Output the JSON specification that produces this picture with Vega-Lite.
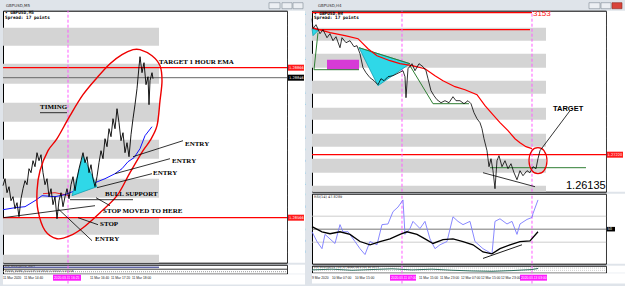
{
"$schema":"https://vega.github.io/schema/vega-lite/v6.json",
"background":"#dfe4ea",
"padding":{"left":0,"top":1.7,"right":0,"bottom":0},
"spacing":2,
"config":{
 "view":{"stroke":"#000000","strokeWidth":1,"fill":"#ffffff"},
 "axis":{"domain":false,"grid":false,"tickSize":2,"tickColor":"#333333","labelFontSize":3.6,"labelFont":"DejaVu Sans","labelColor":"#222222","labelPadding":1,"zindex":1,"title":null,"labelOverlap":false,"labelFlush":false}
},
"hconcat":[
 {"bounds":"flush","spacing":2,"vconcat":[
  {"width":284,"height":252,
   "encoding":{
    "x":{"field":"x","type":"quantitative","scale":{"domain":[0,142],"nice":false,"zero":false},"axis":null},
    "y":{"field":"y","type":"quantitative","scale":{"domain":[1.28476,1.2898],"nice":false,"zero":false},"axis":{"orient":"right","format":".5f","values":[1.28974,1.28952,1.2893,1.28906,1.28884,1.28816,1.28794,1.2877,1.28748,1.28726,1.28702,1.2868,1.28656,1.28634,1.28612,1.28588,1.28542,1.2852,1.28498]}}
   },
   "layer":[
    {"data":{"values":[{"x":133,"x2":138.5,"y":1.28996,"y2":1.28984},{"x":139.5,"x2":144.5,"y":1.28996,"y2":1.28984},{"x":145,"x2":150,"y":1.28996,"y2":1.28984}]},"mark":{"type":"rect","fill":"#eceff3","stroke":"#7f8a96","strokeWidth":0.6},"encoding":{"x2":{"field":"x2"},"y2":{"field":"y2"}}},
    {"data":{"values":[{"x":1.5,"y":1.2899,"t":"GBPUSD,M5"}]},"mark":{"type":"text","align":"left","baseline":"middle","fontSize":4,"font":"DejaVu Sans","color":"#333333"},"encoding":{"text":{"field":"t"}}},
    {"data":{"values":[{"x":142.4,"x2":151,"y":1.28476,"y2":1.2898}]},"mark":{"type":"rect","fill":"#ffffff"},"encoding":{"x2":{"field":"x2"},"y2":{"field":"y2"}}},
    {"data":{"values":[{"x":0,"x2":78,"y":1.28946,"y2":1.2891},{"x":0,"x2":78,"y":1.28874,"y2":1.28834},{"x":0,"x2":78,"y":1.28796,"y2":1.28758},{"x":0,"x2":78,"y":1.28722,"y2":1.28684},{"x":0,"x2":78,"y":1.28644,"y2":1.28606},{"x":0,"x2":78,"y":1.28566,"y2":1.28532},{"x":0,"x2":78,"y":1.28492,"y2":1.28476}]},"mark":{"type":"rect","fill":"#d4d4d4"},"encoding":{"x2":{"field":"x2"},"y2":{"field":"y2"}}},
    {"data":{"values":[{"x":0,"x2":142,"y":1.28846,"y2":1.28846}]},"mark":{"type":"rule","color":"#666666","strokeWidth":1},"encoding":{"x2":{"field":"x2"},"y2":{"field":"y2"}}},
    {"data":{"values":[{"x":0,"x2":142,"y":1.28866,"y2":1.28866},{"x":0,"x2":142,"y":1.28566,"y2":1.28566}]},"mark":{"type":"rule","color":"#ff0000","strokeWidth":1.3},"encoding":{"x2":{"field":"x2"},"y2":{"field":"y2"}}},
    {"data":{"values":[{"x":32.5,"x2":32.5,"y":1.28476,"y2":1.2898}]},"mark":{"type":"rule","color":"#ff5cff","strokeWidth":1,"strokeDash":[3,2]},"encoding":{"x2":{"field":"x2"},"y2":{"field":"y2"}}},
    {"data":{"values":[{"x":20,"y":1.28614},{"x":26,"y":1.28616},{"x":33.5,"y":1.2861}]},"mark":{"type":"line","color":"#ee2222","strokeWidth":1},"encoding":{}},
    {"data":{"values":[{"x":0,"y":1.28582},{"x":6,"y":1.28586},{"x":11,"y":1.28588},{"x":16,"y":1.286},{"x":19.5,"y":1.2861},{"x":26,"y":1.28608},{"x":31,"y":1.28612},{"x":36,"y":1.2862},{"x":41,"y":1.28628},{"x":46,"y":1.28636},{"x":51,"y":1.28644},{"x":56,"y":1.28654},{"x":59.5,"y":1.28664},{"x":62.5,"y":1.28678},{"x":65.5,"y":1.28686},{"x":68.5,"y":1.28704},{"x":71,"y":1.2873},{"x":74.5,"y":1.28748}]},"mark":{"type":"line","color":"#1010ff","strokeWidth":1},"encoding":{}},
    {"data":{"values":[{"x":40,"y":1.2869,"i":0},{"x":34.5,"y":1.2861,"i":1},{"x":47,"y":1.28628,"i":2},{"x":40,"y":1.2869,"i":3}]},"mark":{"type":"line","fill":"#2fd8e8","stroke":"#139fb0","strokeWidth":0.8},"encoding":{"order":{"field":"i","type":"quantitative"}}},
    {"data":{"values":[{"x":0,"y":1.2863},{"x":1,"y":1.28644},{"x":2,"y":1.28616},{"x":3,"y":1.28628},{"x":4,"y":1.286},{"x":5,"y":1.28608},{"x":6,"y":1.28584},{"x":7,"y":1.28596},{"x":8,"y":1.28568},{"x":9,"y":1.28604},{"x":10,"y":1.28624},{"x":11,"y":1.2864},{"x":12,"y":1.28632},{"x":13,"y":1.28664},{"x":14,"y":1.28656},{"x":15,"y":1.2868},{"x":16,"y":1.28668},{"x":17,"y":1.28696},{"x":18,"y":1.2868},{"x":19,"y":1.28692},{"x":20,"y":1.28656},{"x":21,"y":1.28632},{"x":22,"y":1.28644},{"x":23,"y":1.28608},{"x":24,"y":1.28624},{"x":25,"y":1.28592},{"x":26,"y":1.28608},{"x":27,"y":1.28564},{"x":28,"y":1.286},{"x":29,"y":1.28616},{"x":30,"y":1.28588},{"x":31,"y":1.28608},{"x":32,"y":1.28624},{"x":33,"y":1.28604},{"x":34,"y":1.28632},{"x":35,"y":1.28648},{"x":36,"y":1.2862},{"x":37,"y":1.28644},{"x":38,"y":1.28664},{"x":39,"y":1.2868},{"x":40,"y":1.28696},{"x":41,"y":1.28676},{"x":42,"y":1.28688},{"x":43,"y":1.28656},{"x":44,"y":1.28672},{"x":45,"y":1.28644},{"x":46,"y":1.28628},{"x":47,"y":1.28648},{"x":48,"y":1.28676},{"x":49,"y":1.287},{"x":50,"y":1.28684},{"x":51,"y":1.28724},{"x":52,"y":1.28708},{"x":53,"y":1.28744},{"x":54,"y":1.28728},{"x":55,"y":1.28764},{"x":56,"y":1.28744},{"x":57,"y":1.28784},{"x":58,"y":1.28756},{"x":59,"y":1.2872},{"x":60,"y":1.28736},{"x":61,"y":1.28696},{"x":62,"y":1.28716},{"x":63,"y":1.28688},{"x":64,"y":1.28732},{"x":65,"y":1.28764},{"x":66,"y":1.28792},{"x":67,"y":1.28824},{"x":68,"y":1.28868},{"x":68.5,"y":1.28888},{"x":69.5,"y":1.28856},{"x":70.5,"y":1.28876},{"x":71.5,"y":1.28832},{"x":72.5,"y":1.28848},{"x":73,"y":1.28792},{"x":73.5,"y":1.2884},{"x":74.5,"y":1.28856},{"x":75,"y":1.28844}]},"mark":{"type":"line","color":"#000000","strokeWidth":0.9},"encoding":{}},
    {"data":{"values":[{"x":68.5,"y":1.28902,"i":0},{"x":74.5,"y":1.2889,"i":1},{"x":78.5,"y":1.2887,"i":2},{"x":79.5,"y":1.2884,"i":3},{"x":78.5,"y":1.288,"i":4},{"x":77,"y":1.2875,"i":5},{"x":73.5,"y":1.2872,"i":6},{"x":70,"y":1.287,"i":7},{"x":63.5,"y":1.28656,"i":8},{"x":57,"y":1.2861,"i":9},{"x":48.5,"y":1.28576,"i":10},{"x":40,"y":1.28546,"i":11},{"x":33.5,"y":1.2853,"i":12},{"x":27,"y":1.28524,"i":13},{"x":21,"y":1.2854,"i":14},{"x":17.5,"y":1.2858,"i":15},{"x":17,"y":1.2862,"i":16},{"x":18.5,"y":1.2866,"i":17},{"x":22.5,"y":1.287,"i":18},{"x":27,"y":1.28724,"i":19},{"x":33.5,"y":1.2877,"i":20},{"x":40,"y":1.28812,"i":21},{"x":47,"y":1.28846,"i":22},{"x":53.5,"y":1.28874,"i":23},{"x":59.5,"y":1.28892,"i":24},{"x":65,"y":1.28902,"i":25}]},"mark":{"type":"line","color":"#ee0000","strokeWidth":1.4,"interpolate":"cardinal-closed"},"encoding":{"order":{"field":"i","type":"quantitative"}}},
    {"data":{"values":[{"x":0,"y":1.28566,"x2":46,"y2":1.2859},{"x":33.5,"y":1.28602,"x2":65,"y2":1.28602},{"x":46.5,"y":1.28606,"x2":53.5,"y2":1.2859},{"x":37.5,"y":1.28566,"x2":47.5,"y2":1.28552},{"x":27.5,"y":1.28584,"x2":44.5,"y2":1.2852},{"x":47,"y":1.28626,"x2":74.5,"y2":1.28654},{"x":56,"y":1.28654,"x2":83.5,"y2":1.28684},{"x":65,"y":1.28688,"x2":90,"y2":1.2872},{"x":18.5,"y":1.28776,"x2":32,"y2":1.28776}]},"mark":{"type":"rule","color":"#000000","strokeWidth":0.8},"encoding":{"x2":{"field":"x2"},"y2":{"field":"y2"}}},
    {"data":{"values":[{"x":78,"y":1.28878,"t":"TARGET 1 HOUR EMA"},{"x":18.5,"y":1.28788,"t":"TIMING"},{"x":51,"y":1.28614,"t":"BULL SUPPORT"},{"x":50,"y":1.2858,"t":"STOP MOVED TO HERE"},{"x":48.5,"y":1.28554,"t":"STOP"},{"x":46,"y":1.28524,"t":"ENTRY"},{"x":75,"y":1.28656,"t":"ENTRY"},{"x":84.5,"y":1.2868,"t":"ENTRY"},{"x":91,"y":1.28714,"t":"ENTRY"}]},"mark":{"type":"text","align":"left","baseline":"middle","font":"Liberation Serif","fontWeight":"bold","fontSize":7,"color":"#000000"},"encoding":{"text":{"field":"t"}}},
    {"data":{"values":[{"x":142.5,"x2":150.5,"y":1.28872,"y2":1.2886},{"x":142.5,"x2":150.5,"y":1.28572,"y2":1.2856}]},"mark":{"type":"rect","fill":"#ff1a1a"},"encoding":{"x2":{"field":"x2"},"y2":{"field":"y2"}}},
    {"data":{"values":[{"x":142.5,"x2":150.5,"y":1.28852,"y2":1.2884}]},"mark":{"type":"rect","fill":"#000000"},"encoding":{"x2":{"field":"x2"},"y2":{"field":"y2"}}},
    {"data":{"values":[{"x":143,"y":1.28866,"t":"1.28866"},{"x":143,"y":1.28846,"t":"1.28846"},{"x":143,"y":1.28566,"t":"1.28566"}]},"mark":{"type":"text","align":"left","baseline":"middle","font":"DejaVu Sans","fontSize":3.6,"color":"#ffffff"},"encoding":{"text":{"field":"t"}}},
    {"data":{"values":[{"x":1,"y":1.28975,"t":"▾ GBPUSD,M5"},{"x":1,"y":1.28965,"t":"Spread: 17 points"}]},"mark":{"type":"text","align":"left","baseline":"middle","font":"DejaVu Sans Mono","fontWeight":"bold","fontSize":4.4,"color":"#000000"},"encoding":{"text":{"field":"t"}}}
   ]
  },
  {"width":284,"height":9,
   "encoding":{
    "x":{"field":"x","type":"quantitative","scale":{"domain":[0,142],"nice":false,"zero":false},"axis":null},
    "y":{"field":"y","type":"quantitative","scale":{"domain":[0,1],"nice":false,"zero":false},"axis":null}
   },
   "layer":[
    {"data":{"values":[{"x":0,"x2":151,"y":-1.2,"y2":-0.06},{"x":142.4,"x2":151,"y":0,"y2":1}]},"mark":{"type":"rect","fill":"#ffffff"},"encoding":{"x2":{"field":"x2"},"y2":{"field":"y2"}}},
    {"data":{"values":[{"x":0,"x2":142,"y":0.5,"y2":0.5}]},"mark":{"type":"rule","color":"#000000","strokeWidth":0.8},"encoding":{"x2":{"field":"x2"},"y2":{"field":"y2"}}},
    {"data":{"values":[{"x":0,"x2":78,"y":0.72,"y2":0.72}]},"mark":{"type":"rule","color":"#1a237e","strokeWidth":1},"encoding":{"x2":{"field":"x2"},"y2":{"field":"y2"}}},
    {"data":{"values":[{"x":0,"x2":142,"y":0.22,"y2":0.22}]},"mark":{"type":"rule","color":"#999999","strokeWidth":1,"strokeDash":[1,1]},"encoding":{"x2":{"field":"x2"},"y2":{"field":"y2"}}},
    {"data":{"values":[{"x":1,"y":0.85,"t":"RSI_Divergence_Alert"},{"x":1,"y":0.33,"t":"MACD_OsMA_ColorLH (12,26,9) 0.00012 0.00018"}]},"mark":{"type":"text","align":"left","baseline":"middle","font":"DejaVu Sans","fontSize":2.8,"color":"#333333"},"encoding":{"text":{"field":"t"}}},
    {"data":{"values":[{"x":25,"x2":39,"y":-0.78,"y2":-0.11}]},"mark":{"type":"rect","fill":"#ff1aff"},"encoding":{"x2":{"field":"x2"},"y2":{"field":"y2"}}},
    {"data":{"values":[{"x":25.5,"y":-0.44,"t":"2020.03.11 16:25"}]},"mark":{"type":"text","align":"left","baseline":"middle","font":"Liberation Sans","fontSize":3.3,"color":"#ffffff"},"encoding":{"text":{"field":"t"}}},
    {"data":{"values":[{"x":32.5,"x2":32.5,"y":-1.1,"y2":1}]},"mark":{"type":"rule","color":"#ff5cff","strokeWidth":1,"strokeDash":[3,2]},"encoding":{"x2":{"field":"x2"},"y2":{"field":"y2"}}},
    {"data":{"values":[{"x":0,"y":-0.44,"t":"11 Mar 2020"},{"x":10.5,"y":-0.44,"t":"11 Mar 14:40"},{"x":43.5,"y":-0.44,"t":"11 Mar 16:40"},{"x":54,"y":-0.44,"t":"11 Mar 17:20"},{"x":64.5,"y":-0.44,"t":"11 Mar 18:00"}]},"mark":{"type":"text","align":"left","baseline":"middle","font":"Liberation Sans","fontSize":3.3,"color":"#222222"},"encoding":{"text":{"field":"t"}}}
   ]
  }
 ]},
 {"bounds":"flush","spacing":2,"vconcat":[
  {"width":294,"height":181,
   "encoding":{
    "x":{"field":"x","type":"quantitative","scale":{"domain":[0,147],"nice":false,"zero":false},"axis":null},
    "y":{"field":"y","type":"quantitative","scale":{"domain":[1.2611,1.3154],"nice":false,"zero":false},"axis":{"orient":"right","format":".5f","values":[1.3145,1.31111,1.30772,1.30433,1.30094,1.29755,1.29416,1.29077,1.28738,1.28399,1.2806,1.27721,1.27382,1.26704,1.26365]}}
   },
   "layer":[
    {"data":{"values":[{"x":138.5,"x2":144,"y":1.3178,"y2":1.316},{"x":144.5,"x2":149.5,"y":1.3178,"y2":1.316}]},"mark":{"type":"rect","fill":"#eceff3","stroke":"#7f8a96","strokeWidth":0.6},"encoding":{"x2":{"field":"x2"},"y2":{"field":"y2"}}},
    {"data":{"values":[{"x":150,"x2":155,"y":1.3178,"y2":1.316}]},"mark":{"type":"rect","fill":"#d9443a","stroke":"#8a2a22","strokeWidth":0.6},"encoding":{"x2":{"field":"x2"},"y2":{"field":"y2"}}},
    {"data":{"values":[{"x":3,"y":1.3169,"t":"GBPUSD,H4"}]},"mark":{"type":"text","align":"left","baseline":"middle","fontSize":4,"font":"DejaVu Sans","color":"#333333"},"encoding":{"text":{"field":"t"}}},
    {"data":{"values":[{"x":147.4,"x2":157,"y":1.2611,"y2":1.3154}]},"mark":{"type":"rect","fill":"#ffffff"},"encoding":{"x2":{"field":"x2"},"y2":{"field":"y2"}}},
    {"data":{"values":[{"x":0,"x2":117,"y":1.3103,"y2":1.3064},{"x":0,"x2":117,"y":1.3025,"y2":1.2983},{"x":0,"x2":117,"y":1.2944,"y2":1.2905},{"x":0,"x2":117,"y":1.2863,"y2":1.2827},{"x":0,"x2":117,"y":1.2785,"y2":1.2746},{"x":0,"x2":117,"y":1.271,"y2":1.2668},{"x":0,"x2":117,"y":1.2629,"y2":1.2611}]},"mark":{"type":"rect","fill":"#d4d4d4"},"encoding":{"x2":{"field":"x2"},"y2":{"field":"y2"}}},
    {"data":{"values":[{"x":7.5,"x2":23.5,"y":1.3007,"y2":1.2977}]},"mark":{"type":"rect","fill":"#d63bd6"},"encoding":{"x2":{"field":"x2"},"y2":{"field":"y2"}}},
    {"data":{"values":[{"x":0,"x2":110,"y":1.3148,"y2":1.3148},{"x":0,"x2":109,"y":1.3097,"y2":1.3097},{"x":0,"x2":147,"y":1.2722,"y2":1.2722}]},"mark":{"type":"rule","color":"#ff0000","strokeWidth":1.2},"encoding":{"x2":{"field":"x2"},"y2":{"field":"y2"}}},
    {"data":{"values":[{"x":45,"x2":45,"y":1.2611,"y2":1.3154},{"x":110,"x2":110,"y":1.2611,"y2":1.3154}]},"mark":{"type":"rule","color":"#ff5cff","strokeWidth":1,"strokeDash":[3,2]},"encoding":{"x2":{"field":"x2"},"y2":{"field":"y2"}}},
    {"data":{"values":[{"x":23.5,"y":1.3043,"i":0},{"x":49,"y":1.2995,"i":1},{"x":33,"y":1.2929,"i":2},{"x":23.5,"y":1.3043,"i":3}]},"mark":{"type":"line","fill":"#2fd8e8","stroke":"#139fb0","strokeWidth":0.8},"encoding":{"order":{"field":"i","type":"quantitative"}}},
    {"data":{"values":[{"x":0,"y":1.31,"i":0},{"x":3,"y":1.3094,"i":1},{"x":0.5,"y":1.3079,"i":2},{"x":0,"y":1.31,"i":3}]},"mark":{"type":"line","fill":"#2fd8e8","stroke":"#139fb0","strokeWidth":0.8},"encoding":{"order":{"field":"i","type":"quantitative"}}},
    {"data":{"values":[{"x":3,"y":1.3088,"x2":1,"y2":1.2977},{"x":1,"y":1.2977,"x2":23.5,"y2":1.2977},{"x":23.5,"y":1.3043,"x2":49,"y2":1.2995},{"x":49,"y":1.2989,"x2":60.5,"y2":1.2875},{"x":60.5,"y":1.2875,"x2":78.5,"y2":1.2875},{"x":89,"y":1.2683,"x2":137,"y2":1.2683}]},"mark":{"type":"rule","color":"#2e7d32","strokeWidth":1},"encoding":{"x2":{"field":"x2"},"y2":{"field":"y2"}}},
    {"data":{"values":[{"x":0,"y":1.3103},{"x":9,"y":1.3088},{"x":16.5,"y":1.3079},{"x":23,"y":1.307},{"x":28,"y":1.304},{"x":32.5,"y":1.3019},{"x":39,"y":1.3004},{"x":44,"y":1.2995},{"x":50,"y":1.2989},{"x":56.5,"y":1.298},{"x":61.5,"y":1.2959},{"x":65.5,"y":1.2944},{"x":71.5,"y":1.2926},{"x":76.5,"y":1.2917},{"x":82.5,"y":1.2902},{"x":86.5,"y":1.2869},{"x":90,"y":1.2845},{"x":94,"y":1.2818},{"x":98,"y":1.2794},{"x":101.5,"y":1.277},{"x":104,"y":1.2758},{"x":107,"y":1.2746},{"x":110,"y":1.274}]},"mark":{"type":"line","color":"#ff0000","strokeWidth":1.2},"encoding":{}},
    {"data":{"values":[{"x":0,"y":1.313},{"x":0.5,"y":1.31},{"x":2,"y":1.3112},{"x":4,"y":1.3085},{"x":5.5,"y":1.3097},{"x":7.5,"y":1.3073},{"x":9,"y":1.3085},{"x":10.5,"y":1.3064},{"x":12,"y":1.3076},{"x":14,"y":1.3043},{"x":15,"y":1.3073},{"x":17,"y":1.3058},{"x":19,"y":1.3064},{"x":21,"y":1.3046},{"x":22.5,"y":1.3049},{"x":24,"y":1.3025},{"x":25.5,"y":1.2983},{"x":27,"y":1.2968},{"x":29,"y":1.2953},{"x":31,"y":1.2944},{"x":33,"y":1.2932},{"x":34.5,"y":1.295},{"x":36,"y":1.2944},{"x":38,"y":1.2956},{"x":40.5,"y":1.2959},{"x":42.5,"y":1.2965},{"x":45.5,"y":1.2974},{"x":46.5,"y":1.2956},{"x":47,"y":1.2893},{"x":48,"y":1.298},{"x":50,"y":1.2995},{"x":51.5,"y":1.2974},{"x":53.5,"y":1.2995},{"x":55.5,"y":1.2986},{"x":57,"y":1.2974},{"x":58,"y":1.295},{"x":59.5,"y":1.2914},{"x":61,"y":1.2899},{"x":62.5,"y":1.2887},{"x":64.5,"y":1.2878},{"x":66.5,"y":1.2884},{"x":68.5,"y":1.2878},{"x":70.5,"y":1.2896},{"x":72,"y":1.2884},{"x":74,"y":1.2884},{"x":76,"y":1.2875},{"x":78,"y":1.2884},{"x":79.5,"y":1.2875},{"x":81,"y":1.2848},{"x":82.5,"y":1.283},{"x":84,"y":1.2818},{"x":85,"y":1.28},{"x":86,"y":1.277},{"x":87.5,"y":1.2734},{"x":88.5,"y":1.2686},{"x":89.5,"y":1.271},{"x":90.5,"y":1.2674},{"x":91.5,"y":1.262},{"x":92.5,"y":1.2704},{"x":93.5,"y":1.2719},{"x":95,"y":1.2686},{"x":96.5,"y":1.2704},{"x":98,"y":1.268},{"x":99.5,"y":1.2695},{"x":101,"y":1.2668},{"x":102.5,"y":1.2647},{"x":104,"y":1.2674},{"x":105.5,"y":1.2659},{"x":107.5,"y":1.2674},{"x":109,"y":1.2668},{"x":110.5,"y":1.2686},{"x":112,"y":1.268},{"x":113,"y":1.271},{"x":114,"y":1.2734}]},"mark":{"type":"line","color":"#000000","strokeWidth":0.8},"encoding":{}},
    {"data":{"values":[{"x":113,"y":1.2743,"i":0},{"x":116,"y":1.2734,"i":1},{"x":117.5,"y":1.2704,"i":2},{"x":116,"y":1.2674,"i":3},{"x":113,"y":1.2665,"i":4},{"x":110,"y":1.2674,"i":5},{"x":108.5,"y":1.2704,"i":6},{"x":110,"y":1.2734,"i":7}]},"mark":{"type":"line","color":"#ee0000","strokeWidth":1.2,"interpolate":"cardinal-closed"},"encoding":{"order":{"field":"i","type":"quantitative"}}},
    {"data":{"values":[{"x":129,"y":1.2854,"x2":114,"y2":1.2734},{"x":85.5,"y":1.2668,"x2":111.5,"y2":1.2626}]},"mark":{"type":"rule","color":"#000000","strokeWidth":0.8},"encoding":{"x2":{"field":"x2"},"y2":{"field":"y2"}}},
    {"data":{"values":[{"x":120.5,"y":1.286,"t":"TARGET"}]},"mark":{"type":"text","align":"left","baseline":"middle","font":"Liberation Sans","fontWeight":"bold","fontSize":7.5,"color":"#000000"},"encoding":{"text":{"field":"t"}}},
    {"data":{"values":[{"x":127,"y":1.2628,"t":"1.26135"}]},"mark":{"type":"text","align":"left","baseline":"middle","font":"Liberation Sans","fontSize":11,"color":"#000000"},"encoding":{"text":{"field":"t"}}},
    {"data":{"values":[{"x":110.5,"y":1.3145,"t":"3153"}]},"mark":{"type":"text","align":"left","baseline":"middle","font":"Liberation Sans","fontSize":8,"color":"#ff2020"},"encoding":{"text":{"field":"t"}}},
    {"data":{"values":[{"x":147.4,"x2":155.5,"y":1.2731,"y2":1.2713}]},"mark":{"type":"rect","fill":"#ff1a1a"},"encoding":{"x2":{"field":"x2"},"y2":{"field":"y2"}}},
    {"data":{"values":[{"x":147.8,"y":1.2722,"t":"1.27220"}]},"mark":{"type":"text","align":"left","baseline":"middle","font":"DejaVu Sans","fontSize":3.6,"color":"#ffffff"},"encoding":{"text":{"field":"t"}}},
    {"data":{"values":[{"x":1,"y":1.3145,"t":"▾ GBPUSD,H4"},{"x":1,"y":1.3131,"t":"Spread: 17 points"}]},"mark":{"type":"text","align":"left","baseline":"middle","font":"DejaVu Sans Mono","fontWeight":"bold","fontSize":4.4,"color":"#000000"},"encoding":{"text":{"field":"t"}}}
   ]
  },
  {"width":294,"height":70,
   "encoding":{
    "x":{"field":"x","type":"quantitative","scale":{"domain":[0,147],"nice":false,"zero":false},"axis":null},
    "y":{"field":"y","type":"quantitative","scale":{"domain":[-3.1,104.6],"nice":false,"zero":false},"axis":{"orient":"right","values":[100,70,30,0]}}
   },
   "layer":[
    {"data":{"values":[{"x":147.4,"x2":157,"y":-3.1,"y2":104.6}]},"mark":{"type":"rect","fill":"#ffffff"},"encoding":{"x2":{"field":"x2"},"y2":{"field":"y2"}}},
    {"data":{"values":[{"x":0,"x2":147,"y":70,"y2":70},{"x":0,"x2":147,"y":30,"y2":30}]},"mark":{"type":"rule","color":"#c0c0c0","strokeWidth":0.8},"encoding":{"x2":{"field":"x2"},"y2":{"field":"y2"}}},
    {"data":{"values":[{"x":0,"x2":147,"y":50,"y2":50}]},"mark":{"type":"rule","color":"#555555","strokeWidth":0.8},"encoding":{"x2":{"field":"x2"},"y2":{"field":"y2"}}},
    {"data":{"values":[{"x":45,"x2":45,"y":-3.1,"y2":104.6},{"x":110,"x2":110,"y":-3.1,"y2":104.6}]},"mark":{"type":"rule","color":"#ff5cff","strokeWidth":1,"strokeDash":[3,2]},"encoding":{"x2":{"field":"x2"},"y2":{"field":"y2"}}},
    {"data":{"values":[{"x":0,"y":46},{"x":2.5,"y":31},{"x":5,"y":20},{"x":6.5,"y":42},{"x":9,"y":35},{"x":11.5,"y":28},{"x":14,"y":57},{"x":15.5,"y":46},{"x":18,"y":46},{"x":21.5,"y":31},{"x":24,"y":20},{"x":26.5,"y":11},{"x":29,"y":31},{"x":32.5,"y":26},{"x":35,"y":57},{"x":38,"y":58},{"x":40.5,"y":77},{"x":43,"y":84},{"x":45.5,"y":95},{"x":46.5,"y":42},{"x":49,"y":51},{"x":50.5,"y":62},{"x":54,"y":51},{"x":56.5,"y":62},{"x":59,"y":35},{"x":61.5,"y":20},{"x":64,"y":26},{"x":67.5,"y":31},{"x":70.5,"y":69},{"x":73,"y":62},{"x":75.5,"y":57},{"x":79,"y":62},{"x":81.5,"y":31},{"x":85.5,"y":20},{"x":90,"y":12},{"x":91.5,"y":62},{"x":94,"y":66},{"x":97.5,"y":58},{"x":100,"y":62},{"x":102.5,"y":42},{"x":104,"y":58},{"x":107.5,"y":65},{"x":110,"y":68},{"x":110.5,"y":74},{"x":113,"y":95}]},"mark":{"type":"line","color":"#7a7aff","strokeWidth":0.9},"encoding":{}},
    {"data":{"values":[{"x":0,"y":54},{"x":5,"y":46},{"x":9,"y":43},{"x":14,"y":46},{"x":19,"y":42},{"x":24,"y":31},{"x":29,"y":26},{"x":34,"y":31},{"x":39,"y":35},{"x":44,"y":42},{"x":47.5,"y":46},{"x":52.5,"y":42},{"x":56.5,"y":35},{"x":60.5,"y":28},{"x":65.5,"y":34},{"x":70.5,"y":35},{"x":75.5,"y":31},{"x":80.5,"y":26},{"x":85.5,"y":15},{"x":90,"y":12},{"x":94,"y":20},{"x":99,"y":26},{"x":104,"y":31},{"x":109,"y":32},{"x":113,"y":46}]},"mark":{"type":"line","color":"#000000","strokeWidth":1.3},"encoding":{}},
    {"data":{"values":[{"x":85.5,"y":5,"x2":105,"y2":26}]},"mark":{"type":"rule","color":"#000000","strokeWidth":0.9},"encoding":{"x2":{"field":"x2"},"y2":{"field":"y2"}}},
    {"data":{"values":[{"x":1,"y":99,"t":"RSI(14) 47.8289"}]},"mark":{"type":"text","align":"left","baseline":"middle","font":"DejaVu Sans","fontSize":3.5,"color":"#222222"},"encoding":{"text":{"field":"t"}}},
    {"data":{"values":[{"x":147.4,"x2":151.5,"y":53.5,"y2":46.5}]},"mark":{"type":"rect","fill":"#000000"},"encoding":{"x2":{"field":"x2"},"y2":{"field":"y2"}}},
    {"data":{"values":[{"x":147.8,"y":50,"t":"50"}]},"mark":{"type":"text","align":"left","baseline":"middle","font":"DejaVu Sans","fontSize":3.6,"color":"#ffffff"},"encoding":{"text":{"field":"t"}}}
   ]
  },
  {"width":294,"height":7,
   "encoding":{
    "x":{"field":"x","type":"quantitative","scale":{"domain":[0,147],"nice":false,"zero":false},"axis":null},
    "y":{"field":"y","type":"quantitative","scale":{"domain":[0,1],"nice":false,"zero":false},"axis":null}
   },
   "layer":[
    {"data":{"values":[{"x":0,"x2":157,"y":-1.55,"y2":-0.07},{"x":147.4,"x2":157,"y":0,"y2":1}]},"mark":{"type":"rect","fill":"#ffffff"},"encoding":{"x2":{"field":"x2"},"y2":{"field":"y2"}}},
    {"data":{"values":[{"x":0,"x2":147,"y":0.33,"y2":0.33},{"x":0,"x2":147,"y":0.66,"y2":0.66}]},"mark":{"type":"rule","color":"#aaaaaa","strokeWidth":0.6,"strokeDash":[1,1]},"encoding":{"x2":{"field":"x2"},"y2":{"field":"y2"}}},
    {"data":{"values":[{"x":0,"y":0.4},{"x":10,"y":0.5},{"x":20,"y":0.35},{"x":30,"y":0.45},{"x":40,"y":0.55},{"x":50,"y":0.4},{"x":60,"y":0.5},{"x":70,"y":0.35},{"x":80,"y":0.25},{"x":90,"y":0.2},{"x":100,"y":0.3},{"x":110,"y":0.45},{"x":113,"y":0.6}]},"mark":{"type":"line","color":"#2f6f5f","strokeWidth":1},"encoding":{}},
    {"data":{"values":[{"x":1,"y":0.78,"t":"RSI Divergence (14) 47.8289 48.4793 36.4575"}]},"mark":{"type":"text","align":"left","baseline":"middle","font":"DejaVu Sans","fontSize":2.8,"color":"#333333"},"encoding":{"text":{"field":"t"}}},
    {"data":{"values":[{"x":39,"x2":52,"y":-1.14,"y2":-0.29},{"x":104,"x2":117.5,"y":-1.14,"y2":-0.29}]},"mark":{"type":"rect","fill":"#ff1aff"},"encoding":{"x2":{"field":"x2"},"y2":{"field":"y2"}}},
    {"data":{"values":[{"x":39.5,"y":-0.71,"t":"2020.03.11 07:00"},{"x":104.5,"y":-0.71,"t":"2020.03.13 03:00"}]},"mark":{"type":"text","align":"left","baseline":"middle","font":"Liberation Sans","fontSize":3.3,"color":"#ffffff"},"encoding":{"text":{"field":"t"}}},
    {"data":{"values":[{"x":45,"x2":45,"y":-1.55,"y2":1},{"x":110,"x2":110,"y":-1.55,"y2":1}]},"mark":{"type":"rule","color":"#ff5cff","strokeWidth":1,"strokeDash":[3,2]},"encoding":{"x2":{"field":"x2"},"y2":{"field":"y2"}}},
    {"data":{"values":[{"x":0,"y":-0.71,"t":"9 Mar 2020"},{"x":10,"y":-0.71,"t":"10 Mar 07:00"},{"x":21.5,"y":-0.71,"t":"10 Mar 15:00"},{"x":53.5,"y":-0.71,"t":"11 Mar 15:00"},{"x":64,"y":-0.71,"t":"11 Mar 23:00"},{"x":74.5,"y":-0.71,"t":"12 Mar 07:00"},{"x":84.5,"y":-0.71,"t":"12 Mar 15:00"},{"x":94.5,"y":-0.71,"t":"12 Mar 23:00"}]},"mark":{"type":"text","align":"left","baseline":"middle","font":"Liberation Sans","fontSize":3.3,"color":"#222222"},"encoding":{"text":{"field":"t"}}}
   ]
  }
 ]}
]
}
